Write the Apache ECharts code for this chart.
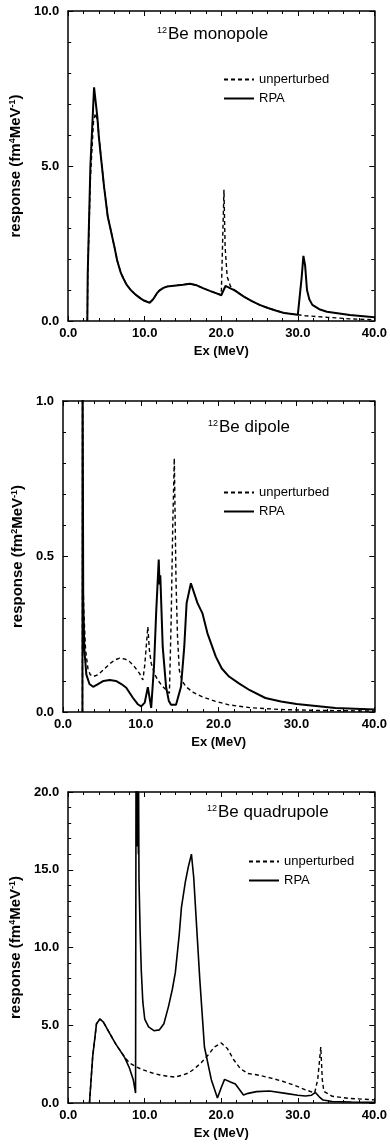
<!DOCTYPE html>
<html>
<head>
<meta charset="utf-8">
<script src="https://cdn.jsdelivr.net/npm/echarts@6/dist/echarts.min.js"></script>
<style>
html,body{margin:0;padding:0;background:#fff;}
#chart{width:390px;height:1148px;}
</style>
</head>
<body>
<div id="chart"></div>
<script>
// ---- data ----
const xRange = [0, 40];
const xInterval = 10;
const monoYRange = [0, 10];
const dipoleYRange = [0, 1];
const quadYRange = [0, 20];
const panelTitles = ['Be monopole', 'Be dipole', 'Be quadrupole'];
const massNumber = '12';
const seriesNames = ['unperturbed', 'RPA'];

const monoUnpert = [[2.5,0],[2.55,1.5],[2.9,4.6],[3.3,6.4],[3.55,6.7],[3.85,6.45],[4.0,6.0],[4.32,5.19],[4.7,4.3],[5.17,3.36],[5.5,3.0],[6.03,2.4],[6.4,1.95],[6.88,1.55],[7.2,1.38],[7.6,1.18],[8.17,1.0],[8.8,0.85],[9.45,0.73],[9.9,0.66],[10.3,0.62],[10.64,0.59],[11.1,0.7],[11.58,0.89],[11.9,0.98],[12.44,1.07],[12.9,1.11],[13.8,1.14],[15,1.17],[15.9,1.2],[16.8,1.15],[17.6,1.06],[18.5,0.97],[19.3,0.9],[20,0.84],[20.15,0.9],[20.35,4.23],[20.5,2.4],[20.77,1.43],[21.2,1.12],[21.8,0.98],[23,0.78],[24,0.64],[25,0.52],[26.1,0.42],[27.2,0.33],[28.2,0.26],[30,0.2],[31,0.17],[33.8,0.12],[36.8,0.07],[40,0.04]];
const monoRPA = [[2.5,0],[2.55,1.5],[2.9,5.0],[3.38,7.54],[3.8,6.6],[4.0,5.95],[4.32,5.19],[4.7,4.3],[5.17,3.36],[5.5,3.0],[6.03,2.4],[6.4,1.95],[6.88,1.55],[7.2,1.38],[7.6,1.18],[8.17,1.0],[8.8,0.85],[9.45,0.73],[9.9,0.66],[10.3,0.62],[10.64,0.59],[11.1,0.7],[11.58,0.89],[11.9,0.98],[12.44,1.07],[12.9,1.11],[13.8,1.14],[15,1.17],[15.9,1.2],[16.8,1.15],[17.6,1.06],[18.5,0.97],[19.3,0.9],[20,0.83],[20.13,0.78],[20.55,1.13],[21.2,1.05],[21.8,0.98],[23,0.78],[24,0.64],[25,0.52],[26.1,0.42],[27.2,0.33],[28.2,0.26],[30,0.2],[30.2,0.21],[30.5,1.4],[30.73,2.1],[30.95,1.8],[31.2,1.0],[31.5,0.7],[31.9,0.52],[32.8,0.38],[33.8,0.3],[36.8,0.19],[40,0.12]];

const dipUnpert = [[2.5,0],[2.51,1.2],[2.6,0.4],[2.68,0.32],[2.9,0.2],[3.2,0.14],[3.5,0.12],[3.87,0.114],[4.5,0.12],[5.15,0.135],[6,0.155],[6.7,0.168],[7.28,0.173],[8,0.17],[8.56,0.162],[9.2,0.145],[9.83,0.124],[10.26,0.103],[10.5,0.15],[10.9,0.274],[11.1,0.2],[11.33,0.157],[11.8,0.12],[12.17,0.103],[12.7,0.085],[13.24,0.071],[13.67,0.06],[13.9,0.3],[14.1,0.6],[14.3,0.816],[14.52,0.42],[14.7,0.25],[14.94,0.135],[15.3,0.1],[15.8,0.081],[16.8,0.062],[17.9,0.049],[19.5,0.035],[21.3,0.023],[24,0.014],[28,0.008],[33,0.005],[40,0.003]];
const dipRPA = [[2.5,0],[2.51,1.2],[2.6,0.35],[2.75,0.2],[3.0,0.12],[3.4,0.09],[3.87,0.081],[4.5,0.09],[5.2,0.1],[6.0,0.103],[6.8,0.1],[7.5,0.09],[8.13,0.078],[9.0,0.045],[9.6,0.025],[10.05,0.018],[10.5,0.03],[10.9,0.08],[11.33,0.013],[11.7,0.15],[11.97,0.32],[12.3,0.49],[12.4,0.41],[12.5,0.44],[12.81,0.21],[13.24,0.081],[13.6,0.035],[13.88,0.023],[14.52,0.023],[15.16,0.081],[15.58,0.21],[15.88,0.35],[16.43,0.414],[17.28,0.35],[17.92,0.317],[18.56,0.253],[19.63,0.178],[20.4,0.14],[21.33,0.114],[22.6,0.092],[24,0.07],[26,0.045],[28,0.034],[30,0.026],[35,0.013],[40,0.008]];

const quadUnpert = [[2.78,0],[3.2,3.0],[3.7,5.1],[4.15,5.4],[4.6,5.2],[5.4,4.5],[6.2,3.8],[6.7,3.43],[7.4,2.95],[8.0,2.57],[8.8,2.35],[9.7,2.14],[11,1.93],[12,1.8],[13.1,1.71],[14,1.67],[15,1.8],[15.7,1.93],[16.5,2.2],[17.4,2.6],[18.3,3.1],[19.1,3.6],[20,3.86],[20.8,3.5],[21.6,2.8],[22.5,2.2],[23.5,1.9],[25,1.78],[26.5,1.6],[28,1.4],[29.5,1.15],[31,0.85],[32.2,0.65],[32.6,1.5],[33.0,3.6],[33.2,1.5],[33.4,0.75],[34.5,0.43],[36.6,0.3],[40,0.2]];
const quadRPA = [[2.78,0],[3.2,3.0],[3.7,5.1],[4.15,5.4],[4.6,5.2],[5.4,4.5],[6.2,3.8],[6.7,3.43],[7.4,2.9],[8.0,2.25],[8.5,1.5],[8.8,0.64],[8.86,21],[8.93,17],[8.98,21],[9.05,16.5],[9.1,21],[9.17,16],[9.2,20],[9.25,14.3],[9.4,11],[9.55,8.5],[9.75,6.5],[10.0,5.4],[10.5,4.9],[11.2,4.65],[11.9,4.7],[12.5,5.1],[13.1,6.2],[13.6,7.3],[14.0,8.4],[14.5,10.8],[14.8,12.6],[15.3,14.2],[15.7,15.2],[15.9,15.1],[16.1,16.0],[16.4,14.5],[16.7,12.0],[17.2,7.9],[17.8,3.6],[18.7,1.5],[19.5,0.32],[20.0,1.0],[20.43,1.52],[21.2,1.35],[21.84,1.22],[22.1,1.1],[22.9,0.51],[23.5,0.62],[24.6,0.73],[26.3,0.77],[28.4,0.62],[30,0.5],[31.0,0.45],[31.8,0.5],[32.3,0.68],[32.8,0.4],[33.3,0.19],[34.5,0.1],[37,0.06],[40,0.04]];

// ---- layout ----
const grids = [
  {left: 63, top: 11, width: 312, height: 310},
  {left: 63, top: 401, width: 313, height: 311},
  {left: 64, top: 792, width: 313, height: 311}
];
const yRanges = [monoYRange, dipoleYRange, quadYRange];
const yIntervals = [5, 0.5, 5];
const yMinorSplits = [5, 5, 5];
const yNameSup = ['4', '2', '4'];
const panelData = [[monoUnpert, monoRPA], [dipUnpert, dipRPA], [quadUnpert, quadRPA]];
const titlePos = [[157, 26], [208, 419], [207, 804]];
const legendPos = [[218, 68], [218, 481], [243, 850]];

const FONT = "'Liberation Sans', Arial, sans-serif";
const black = '#000';
const lbl = {color: black, fontSize: 13, fontWeight: 'bold', fontFamily: FONT};

const xAxes = [], yAxes = [], series = [], graphics = [], legends = [];
grids.forEach((g, i) => {
  const common = {
    type: 'value', gridIndex: i, min: xRange[0], max: xRange[1], interval: xInterval,
    axisLine: {show: true, onZero: false, lineStyle: {color: black, width: 1.5}},
    axisTick: {show: true, inside: true, length: 5, lineStyle: {color: black, width: 1}},
    minorTick: {show: true, splitNumber: 5, length: 3, lineStyle: {color: black, width: 1}},
    splitLine: {show: false}
  };
  xAxes.push(Object.assign({}, common, {
    position: 'bottom',
    axisLabel: Object.assign({margin: 6, formatter: v => v.toFixed(1)}, lbl),
    name: 'Ex (MeV)', nameLocation: 'middle', nameGap: 24,
    nameTextStyle: Object.assign({}, lbl)
  }));
  xAxes.push(Object.assign({}, common, {position: 'top', axisLabel: {show: false}}));

  const yc = {
    type: 'value', gridIndex: i, min: yRanges[i][0], max: yRanges[i][1], interval: yIntervals[i],
    axisLine: {show: true, onZero: false, lineStyle: {color: black, width: 1.5}},
    axisTick: {show: true, inside: true, length: 5, lineStyle: {color: black, width: 1}},
    minorTick: {show: true, splitNumber: yMinorSplits[i], length: 3, lineStyle: {color: black, width: 1}},
    splitLine: {show: false}
  };
  yAxes.push(Object.assign({}, yc, {
    position: 'left',
    axisLabel: Object.assign({margin: 9, formatter: v => v.toFixed(1)}, lbl),
    name: 'response (fm{sup|' + yNameSup[i] + '}MeV{sup|-1})',
    nameLocation: 'middle', nameRotate: 90, nameGap: 33,
    nameTextStyle: Object.assign({}, lbl, {fontSize: 15, rich: {sup: {fontSize: 9, fontWeight: 'bold', fontFamily: FONT, color: black, verticalAlign: 'top', padding: [0, 0, 6, 0]}}})
  }));
  yAxes.push(Object.assign({}, yc, {position: 'right', axisLabel: {show: false}}));

  const [un, rpa] = panelData[i];
  series.push({
    name: seriesNames[0], type: 'line', xAxisIndex: 2 * i, yAxisIndex: 2 * i,
    data: un, symbol: 'none', smooth: false, clip: true, z: 2,
    lineStyle: {color: black, width: 1.4, type: [4, 3]}, itemStyle: {color: black}
  });
  series.push({
    name: seriesNames[1], type: 'line', xAxisIndex: 2 * i, yAxisIndex: 2 * i,
    data: rpa, symbol: 'none', smooth: false, clip: true, z: 3,
    lineStyle: {color: black, width: i === 2 ? 1.6 : 2}, itemStyle: {color: black}
  });

  graphics.push({
    type: 'text', left: titlePos[i][0], top: titlePos[i][1],
    style: {
      text: '{s|' + massNumber + '}{b|' + panelTitles[i] + '}',
      rich: {
        s: {fontSize: 9, fontFamily: FONT, fill: black, verticalAlign: 'top', padding: [0, 1, 8, 0]},
        b: {fontSize: 17, fontFamily: FONT, fill: black}
      }
    }
  });

  legends.push({
    orient: 'vertical', left: legendPos[i][0], top: legendPos[i][1],
    itemWidth: 30, itemHeight: 14, itemGap: 6,
    data: seriesNames.map(n => ({name: n})),
    itemStyle: {opacity: 0, borderWidth: 0},
    textStyle: Object.assign({}, lbl, {fontSize: 13, fontWeight: 'normal'}),
    selectedMode: false
  });
});

const chart = echarts.init(document.getElementById('chart'), null, {renderer: 'canvas'});
chart.setOption({
  animation: false,
  backgroundColor: '#fff',
  grid: grids.map(g => Object.assign({containLabel: false}, g)),
  xAxis: xAxes,
  yAxis: yAxes,
  series: series,
  legend: legends,
  graphic: graphics
});
</script>
</body>
</html>
